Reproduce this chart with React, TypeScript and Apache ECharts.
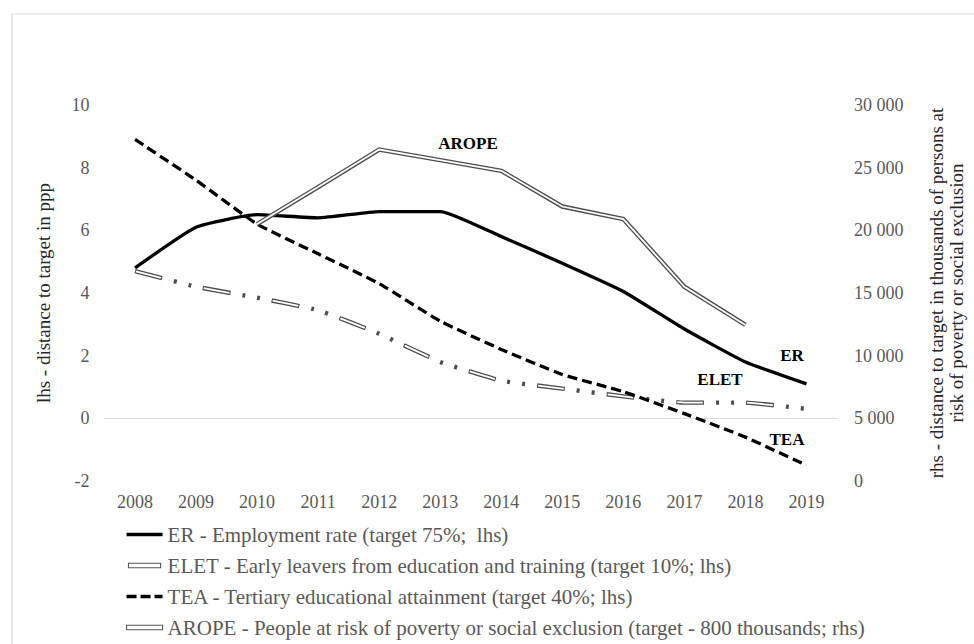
import React, { useEffect, useRef } from "react";
import * as echarts from "echarts";

const years = ["2008", "2009", "2010", "2011", "2012", "2013", "2014", "2015", "2016", "2017", "2018", "2019"];
const erValues = [4.8, 6.1, 6.5, 6.4, 6.6, 6.6, 5.8, 4.95, 4.05, 2.85, 1.8, 1.1];
const eletValues = [4.7, 4.2, 3.85, 3.45, 2.7, 1.8, 1.2, 0.95, 0.7, 0.5, 0.5, 0.3];
const teaValues = [8.9, 7.6, 6.2, 5.25, 4.3, 3.1, 2.2, 1.4, 0.85, 0.15, -0.6, -1.5];
const aropeValues = [null, null, 20500, 23450, 26450, 25600, 24750, 21900, 20900, 15500, 12450, null];

const legendNames = [
  "ER - Employment rate (target 75%;  lhs)",
  "ELET - Early leavers from education and training (target 10%; lhs)",
  "TEA - Tertiary educational attainment (target 40%; lhs)",
  "AROPE - People at risk of poverty or social exclusion (target - 800 thousands; rhs)",
];
const seriesTags = ["ER", "ELET", "TEA", "AROPE"];

const FONT = "Liberation Serif";

export default function App() {
  const ref = useRef<HTMLDivElement>(null);
  useEffect(() => {
    if (!ref.current) return;
    const chart = echarts.init(ref.current, null, { renderer: "svg" });
    const eletDash = [28, 12, 3, 12, 3, 12];
    const option: any = {
      animation: false,
      backgroundColor: "#ffffff",
      textStyle: { fontFamily: FONT },
      grid: { left: 104.5, right: 135.4, top: 105, bottom: 163, containLabel: false },
      xAxis: {
        type: "category",
        data: years,
        boundaryGap: true,
        axisLine: { show: true, lineStyle: { color: "#d9d9d9", width: 1.2 } },
        axisTick: { show: false },
        axisLabel: { color: "#595959", fontSize: 18, fontFamily: FONT, margin: 12 },
        splitLine: { show: false },
      },
      yAxis: [
        {
          type: "value",
          min: -2,
          max: 10,
          interval: 2,
          position: "left",
          name: "lhs - distance to target in ppp",
          nameLocation: "middle",
          nameRotate: 90,
          nameGap: 52,
          nameTextStyle: { color: "#262626", fontSize: 19, fontFamily: FONT },
          axisLine: { show: false },
          axisTick: { show: false },
          splitLine: { show: false },
          axisLabel: { color: "#595959", fontSize: 18, fontFamily: FONT, margin: 15 },
        },
        {
          type: "value",
          min: 0,
          max: 30000,
          interval: 5000,
          position: "right",
          name: "rhs - distance to target in thousands of persons at\nrisk of poverty or social exclusion",
          nameLocation: "middle",
          nameRotate: 90,
          nameGap: 89,
          nameTextStyle: { color: "#262626", fontSize: 19, fontFamily: FONT, lineHeight: 20, align: "center" },
          axisLine: { show: false },
          axisTick: { show: false },
          splitLine: { show: false },
          axisLabel: {
            color: "#595959",
            fontSize: 18,
            fontFamily: FONT,
            margin: 17,
            formatter: (v: number) => String(v).replace(/\B(?=(\d{3})+(?!\d))/g, " "),
          },
        },
      ],
      legend: {
        orient: "vertical",
        left: 126,
        top: 523.5,
        itemWidth: 36,
        itemHeight: 4.5,
        itemGap: 9,
        padding: 0,
        selectedMode: false,
        textStyle: { color: "#595959", fontSize: 21, fontFamily: FONT, lineHeight: 22 },
        data: [
          { name: legendNames[0], icon: "path://M0,0H36V3.4H0Z", itemStyle: { color: "#000" } },
          {
            name: legendNames[1],
            icon: "path://M0,0H30V4.2H0Z",
            itemStyle: { color: "#ffffff", borderColor: "#555555", borderWidth: 1.1 },
          },
          {
            name: legendNames[2],
            icon: "path://M0,0H10V3.4H0Z M14,0H24V3.4H14Z M28,0H36V3.4H28Z",
            itemStyle: { color: "#000" },
          },
          {
            name: legendNames[3],
            icon: "path://M0,0H36V4.5H0Z",
            itemStyle: { color: "#ffffff", borderColor: "#555555", borderWidth: 1.1 },
          },
        ],
      },
      series: [
        {
          name: legendNames[1],
          type: "line",
          data: eletValues,
          yAxisIndex: 0,
          smooth: 0.12,
          showSymbol: false,
          symbol: "none",
          color: "#555555",
          lineStyle: { color: "#4d4d4d", width: 4.4, type: eletDash, cap: "butt" },
          z: 2,
        },
        {
          name: "ELET inner",
          type: "line",
          data: eletValues,
          yAxisIndex: 0,
          smooth: 0.12,
          showSymbol: false,
          symbol: "none",
          lineStyle: { color: "#ffffff", width: 1.8, type: [26, 44], dashOffset: -1, cap: "butt" },
          z: 3,
        },
        {
          name: legendNames[2],
          type: "line",
          data: teaValues,
          yAxisIndex: 0,
          smooth: 0.15,
          showSymbol: false,
          symbol: "none",
          color: "#000000",
          lineStyle: { color: "#000000", width: 3.3, type: [10, 5], cap: "butt" },
          z: 4,
        },
        {
          name: legendNames[0],
          type: "line",
          data: erValues,
          yAxisIndex: 0,
          smooth: 0.15,
          showSymbol: false,
          symbol: "none",
          color: "#000000",
          lineStyle: { color: "#000000", width: 3.3 },
          z: 5,
        },
        {
          name: legendNames[3],
          type: "line",
          data: aropeValues,
          yAxisIndex: 1,
          showSymbol: false,
          symbol: "none",
          color: "#555555",
          lineStyle: { color: "#4d4d4d", width: 4.5, join: "miter" },
          z: 6,
        },
        {
          name: "AROPE inner",
          type: "line",
          data: aropeValues,
          yAxisIndex: 1,
          showSymbol: false,
          symbol: "none",
          lineStyle: { color: "#ffffff", width: 1.8, join: "miter" },
          z: 7,
        },
      ],
      graphic: [
        {
          type: "rect",
          left: 9.5,
          top: 11.5,
          silent: true,
          shape: { x: 0, y: 0, width: 1000, height: 1000 },
          style: { fill: "none", stroke: "#d9d9d9", lineWidth: 1.2 },
          z: -1,
        },
        {
          type: "text",
          x: 468,
          y: 143,
          style: { text: seriesTags[3], fill: "#000", font: `bold 17px ${FONT}`, align: "center", verticalAlign: "middle" },
        },
        {
          type: "text",
          x: 792,
          y: 355,
          style: { text: seriesTags[0], fill: "#000", font: `bold 17px ${FONT}`, align: "center", verticalAlign: "middle" },
        },
        {
          type: "text",
          x: 720,
          y: 379,
          style: { text: seriesTags[1], fill: "#000", font: `bold 17px ${FONT}`, align: "center", verticalAlign: "middle" },
        },
        {
          type: "text",
          x: 787,
          y: 439,
          style: { text: seriesTags[2], fill: "#000", font: `bold 17px ${FONT}`, align: "center", verticalAlign: "middle" },
        },
      ],
    };
    chart.setOption(option);
    return () => chart.dispose();
  }, []);
  return (
    <div
      ref={ref}
      style={{ position: "fixed", left: 0, top: 0, width: 974, height: 644, background: "#fff" }}
    />
  );
}
